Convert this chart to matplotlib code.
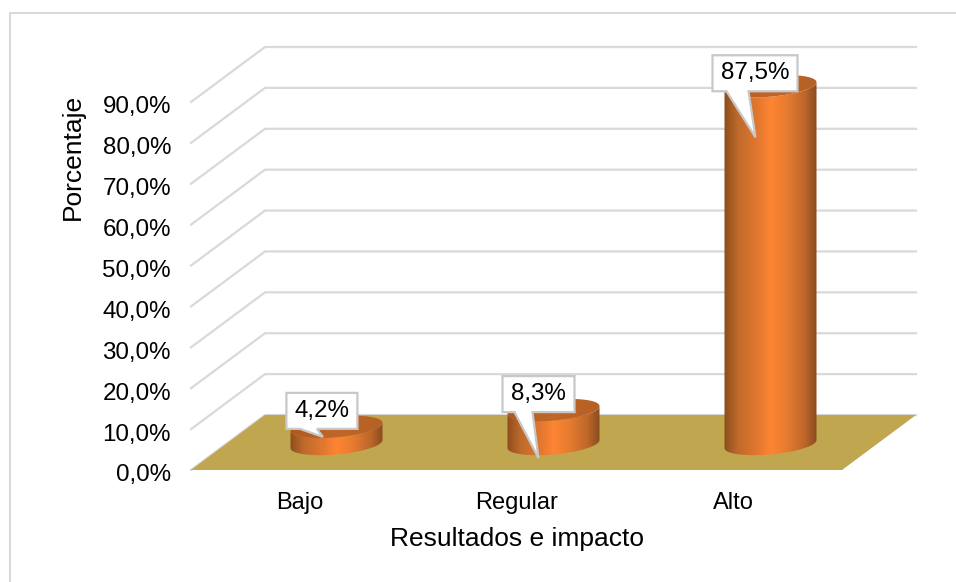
import numpy as np
import matplotlib
matplotlib.use('Agg')
import matplotlib.pyplot as plt
from matplotlib.colors import LinearSegmentedColormap
from matplotlib.patches import Polygon
from matplotlib.transforms import Affine2D, ScaledTranslation

categories = ['Bajo', 'Regular', 'Alto']
valores = [4.2, 8.3, 87.5]
etiquetas = ['4,2%', '8,3%', '87,5%']
y_ticks = [0, 10, 20, 30, 40, 50, 60, 70, 80, 90]
y_labels = ['0,0%', '10,0%', '20,0%', '30,0%', '40,0%', '50,0%', '60,0%', '70,0%', '80,0%', '90,0%']

W, H = 956, 582
plt.rcParams['font.family'] = ['Liberation Sans', 'DejaVu Sans']

fig = plt.figure(figsize=(W / 100, H / 100), dpi=100)
ax = fig.add_axes([191 / W, 1 - 470 / H, 651 / W, 368 / H])
ax.set_xlim(-0.5, 2.5)
ax.set_ylim(0, 90)
ax.patch.set_visible(False)
for s in ax.spines.values():
    s.set_visible(False)

# profundidad del grafico 3D en unidades de datos
dx = 74 / 217
dy = 13.45
grid_c = '#d9d9d9'

for t in y_ticks:
    ax.plot([-0.5, -0.5 + dx, 2.5 + dx], [t, t + dy, t + dy], color=grid_c, lw=1.6,
            clip_on=False, zorder=1)

ax.add_patch(Polygon([(-0.5, 0), (-0.5 + dx, dy), (2.5 + dx, dy), (2.5, 0)], closed=True,
                     facecolor='#bfa64f', edgecolor='none', clip_on=False, zorder=2))

cmap = LinearSegmentedColormap.from_list('cil', [(0, '#8c4d1e'), (0.15, '#c06a2b'), (0.35, '#e0772f'),
                                                 (0.5, '#fe8533'), (0.68, '#e67b30'), (0.87, '#bd672a'),
                                                 (1, '#8a4b1e')])
cmap_top = LinearSegmentedColormap.from_list('top', ['#b05a20', '#c0662a', '#b56024'])

r = 0.212
ry = 2.55
tilt = 0.98
base = 6.35
t_low = np.linspace(np.pi, 2 * np.pi, 60)
t_all = np.linspace(0, 2 * np.pi, 120)
grad = np.linspace(0, 1, 256).reshape(1, -1)

for i, v in enumerate(valores):
    cx = i + dx / 2
    y1 = base + v
    # cuerpo del cilindro con degradado
    xs = cx + r * np.cos(t_low)
    ys = base + ry * np.sin(t_low) + tilt * np.cos(t_low)
    top_x = cx + r * np.cos(t_low[::-1])
    top_y = y1 + ry * np.sin(t_low[::-1]) + tilt * np.cos(t_low[::-1])
    body = Polygon(np.column_stack([np.r_[xs, top_x], np.r_[ys, top_y]]), closed=True,
                   transform=ax.transData, facecolor='none', edgecolor='none', clip_on=False)
    ax.add_patch(body)
    im = ax.imshow(grad, extent=[cx - r, cx + r, base - 5, y1 + 5], cmap=cmap, aspect='auto',
                   zorder=3, vmin=0, vmax=1)
    im.set_clip_box(fig.bbox)
    im.set_clip_path(body)
    # tapa superior
    tx = cx + r * np.cos(t_all)
    ty = y1 + ry * np.sin(t_all) + tilt * np.cos(t_all)
    tapa = Polygon(np.column_stack([tx, ty]), closed=True, transform=ax.transData,
                   facecolor='none', edgecolor='none', clip_on=False)
    ax.add_patch(tapa)
    im2 = ax.imshow(grad, extent=[cx - r, cx + r, y1 - 5, y1 + 5], cmap=cmap_top, aspect='auto',
                    zorder=4, vmin=0, vmax=1)
    im2.set_clip_box(fig.bbox)
    im2.set_clip_path(tapa)

ax.set_xlim(-0.5, 2.5)
ax.set_ylim(0, 90)

ax.set_xticks(range(3))
ax.set_xticklabels(categories, fontsize=17)
ax.set_yticks(y_ticks)
ax.set_yticklabels(y_labels, fontsize=17.4)
ax.tick_params(length=0)
ax.tick_params(axis='x', pad=16)
ax.tick_params(axis='y', pad=14.4)
bajar = ScaledTranslation(0, -3 / 100, fig.dpi_scale_trans)
for lab in ax.get_yticklabels():
    lab.set_transform(lab.get_transform() + bajar)

ax.set_xlabel('Resultados e impacto', fontsize=19)
ax.xaxis.set_label_coords(0.5, (470 - 527) / 368)
ax.set_ylabel('Porcentaje', fontsize=19)
ax.yaxis.set_label_coords((85 - 191) / 651, (470 - 157) / 368)

# marco del grafico en pixeles
px = Affine2D().scale(1, -1).translate(0, H)
fig.add_artist(plt.Line2D([9.5, 9.5, 956], [582, 12.5, 12.5], color='#d9d9d9', lw=1.5, transform=px))

# globos de las etiquetas: (semiancho, semialto, dx centro, dy centro, base izq, base der, punta x, punta y)
globos = [(35.5, 18, -14.6, -16, -22, -5, 1, 26),
          (36, 18, -15, -16, -24, -6, 0, 64),
          (42.5, 18, -15.5, -13, -28.5, -6.5, 0.5, 64)]

for i, v in enumerate(valores):
    ax_px = ax.transData.transform((i + dx / 2, base + v))
    ax_x, ax_y = ax_px[0], H - ax_px[1]
    w, h, ox, oy, b1, b2, tx, ty = globos[i]
    cx, cy = ax_x + ox, ax_y + oy
    pts = [(cx - w, cy - h), (cx + w, cy - h), (cx + w, cy + h), (cx + b2, cy + h),
           (cx + tx, cy + ty), (cx + b1, cy + h), (cx - w, cy + h)]
    fig.add_artist(Polygon(pts, closed=True, facecolor='white', edgecolor='#c8c8c8', lw=1.6,
                           transform=px, zorder=6))
    fig.text(cx / W, 1 - cy / H, etiquetas[i], fontsize=17.4, ha='center', va='center', zorder=7)

fig.savefig('out.png', dpi=100)
